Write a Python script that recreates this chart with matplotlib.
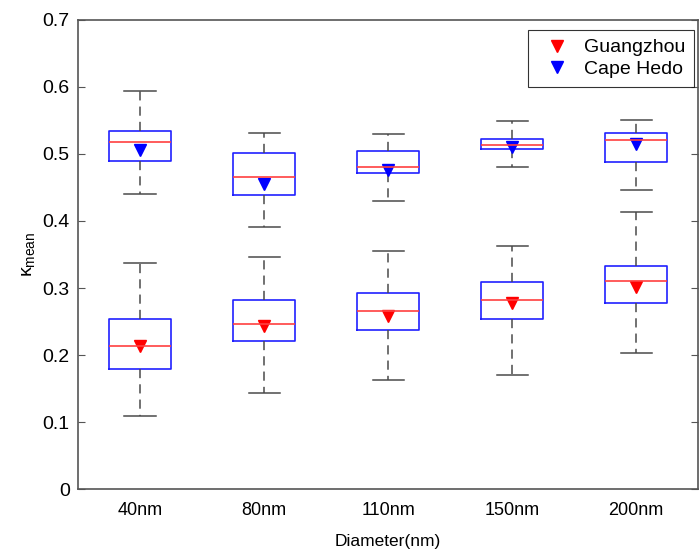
import matplotlib.pyplot as plt
import numpy as np

plt.rcParams['font.family'] = ['Liberation Sans', 'DejaVu Sans']
plt.rcParams['mathtext.default'] = 'regular'

# Datos
diametros = ['40nm', '80nm', '110nm', '150nm', '200nm']

# Guangzhou
gz_whislo = [0.109, 0.144, 0.162, 0.170, 0.203]
gz_q1 = [0.179, 0.221, 0.237, 0.253, 0.278]
gz_med = [0.214, 0.247, 0.265, 0.282, 0.311]
gz_q3 = [0.254, 0.282, 0.292, 0.309, 0.333]
gz_whishi = [0.337, 0.347, 0.355, 0.363, 0.414]
gz_mean = [0.213, 0.244, 0.258, 0.277, 0.302]

# Cape Hedo
ch_whislo = [0.440, 0.391, 0.430, 0.481, 0.447]
ch_q1 = [0.490, 0.439, 0.471, 0.507, 0.488]
ch_med = [0.518, 0.466, 0.480, 0.514, 0.521]
ch_q3 = [0.534, 0.502, 0.504, 0.522, 0.532]
ch_whishi = [0.594, 0.532, 0.530, 0.549, 0.551]
ch_mean = [0.506, 0.455, 0.476, 0.511, 0.515]


def estadisticas(lo, q1, med, q3, hi):
    return [dict(whislo=lo[i], q1=q1[i], med=med[i], q3=q3[i], whishi=hi[i], fliers=[])
            for i in range(len(med))]


fig = plt.figure(figsize=(7, 5.52), dpi=100)
ax = fig.add_axes([0.1114, 0.1141, 0.886, 0.8497])

pos = np.arange(1, len(diametros) + 1)
estilo = dict(
    widths=0.5,
    boxprops=dict(color='#2020ff', linewidth=1.2),
    medianprops=dict(color='#ff4040', linewidth=1.2),
    whiskerprops=dict(color='#4a4a4a', linewidth=1.1, linestyle=(0, (6, 4))),
    capprops=dict(color='#4a4a4a', linewidth=1.1),
    showfliers=False,
)
ax.bxp(estadisticas(gz_whislo, gz_q1, gz_med, gz_q3, gz_whishi), positions=pos, **estilo)
ax.bxp(estadisticas(ch_whislo, ch_q1, ch_med, ch_q3, ch_whishi), positions=pos, **estilo)

ax.plot(pos, gz_mean, 'v', color='red', markersize=9, linestyle='none', label='Guangzhou')
ax.plot(pos, ch_mean, 'v', color='blue', markersize=9, linestyle='none', label='Cape Hedo')

ax.set_xlim(0.5, 5.5)
ax.set_ylim(0, 0.7)
ax.set_yticks(np.arange(0, 0.71, 0.1))
ax.set_yticklabels(['0', '0.1', '0.2', '0.3', '0.4', '0.5', '0.6', '0.7'], fontsize=14)
ax.set_xticks(pos)
ax.set_xticklabels(diametros, fontsize=13)
ax.tick_params(axis='x', length=0, pad=9)
ax.tick_params(axis='y', direction='in', right=True, length=5, color='#555555', pad=6)
for s in ax.spines.values():
    s.set_color('#555555')
    s.set_linewidth(1.2)

ax.set_xlabel('Diameter(nm)', fontsize=12.5, labelpad=11)
ax.set_ylabel(r'$\kappa_{mean}$', fontsize=14, labelpad=4)

leg = ax.legend(loc='upper right', bbox_to_anchor=(0.9935, 0.9787), borderaxespad=0,
                fontsize=14, frameon=True, fancybox=False, edgecolor='black',
                handletextpad=0.35, borderpad=0.45, labelspacing=0.2, handlelength=2.1)
leg.get_frame().set_linewidth(0.8)

fig.savefig('out.png', dpi=100)
